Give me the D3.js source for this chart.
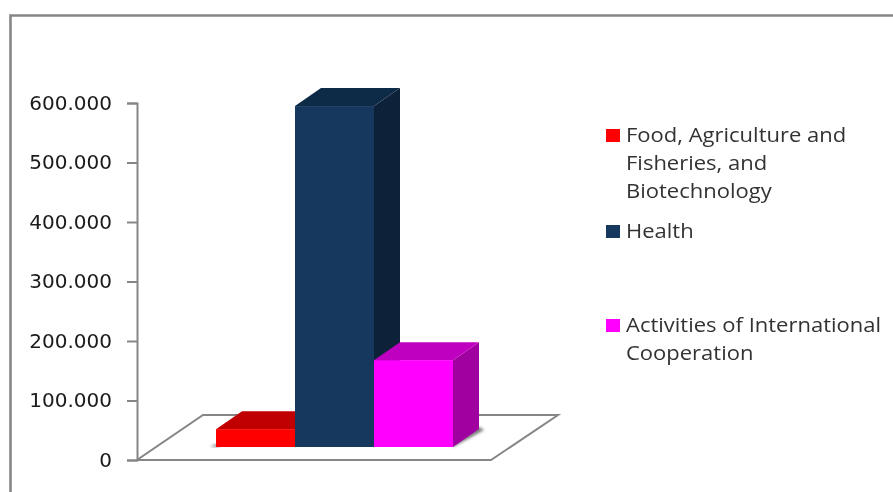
<!DOCTYPE html>
<html><head><meta charset="utf-8">
<script src="https://cdn.jsdelivr.net/npm/d3@7"></script>
<style>html,body{margin:0;padding:0;background:#fff}svg{display:block}</style>
</head><body><div id="c"></div>
<script>
const categories = ["Food, Agriculture and Fisheries, and Biotechnology","Health","Activities of International Cooperation"];
const values = [30000,573000,146000];
const tickValues = [0,100000,200000,300000,400000,500000,600000];
const tickLabels = ["0","100.000","200.000","300.000","400.000","500.000","600.000"];
const legendLines = [["Food, Agriculture and","Fisheries, and","Biotechnology"],["Health"],["Activities of International","Cooperation"]];
const frontColors = ["#ff0000","#17375e","#ff00ff"];
const topColors = ["#c00000","#112a47","#c000c0"];
const sideColors = ["#a00000","#0f2339","#a000a0"];

const W=893,H=492,gray="#868686";
const svg=d3.select("#c").append("svg").attr("width",W).attr("height",H);
const defs=svg.append("defs");
defs.append("filter").attr("id","soft").append("feGaussianBlur").attr("stdDeviation",0.5);
defs.append("filter").attr("id","shadow").append("feGaussianBlur").attr("stdDeviation",1.6);
const root=svg.append("g").attr("filter","url(#soft)");

// chart frame
root.append("path").attr("d",`M10.5,${H}V15.5H${W}`).attr("fill","none").attr("stroke",gray).attr("stroke-width",2.6);

const y=d3.scaleLinear().domain([0,600000]).range([460,103]);
const x=d3.scaleBand().domain(categories).range([216,453]).padding(0);
const baseY=447, dx=26, dy=-18;

// floor
root.append("path").attr("d","M137,460H491L558,415H203Z").attr("fill","#fff").attr("stroke",gray).attr("stroke-width",2);

// axis
const axis=d3.axisLeft(y).tickValues(tickValues).tickFormat((d,i)=>tickLabels[i]).tickSize(10).tickPadding(15);
const ag=root.append("g").attr("transform","translate(137,0)").call(axis);
ag.selectAll("path,line").attr("stroke",gray).attr("stroke-width",2);
ag.selectAll("text").attr("font-family","'DejaVu Sans'").attr("font-size",20).attr("fill","#1a1a1a").attr("dy","0.32em");

// contact shadows
const xl=x(categories[0]), xr=x(categories[2])+x.bandwidth();
root.append("path").attr("d",`M${xl-6},${baseY}H${xl+4}V${baseY-3}H${xl}Z`).attr("fill","#888").attr("filter","url(#shadow)");
root.append("path").attr("d",`M${xr},${baseY}L${xr+dx+5},${baseY+dy+1}L${xr+dx},${baseY+dy-2}L${xr},${baseY-4}Z`).attr("fill","#777").attr("filter","url(#shadow)");

// bars: back to front, left to right
const bars=root.selectAll("g.bar").data(categories.map((c,i)=>({c,i,v:values[i]}))).join("g").attr("class","bar");
bars.each(function(d){
  const g=d3.select(this), x0=x(d.c), x1=x0+x.bandwidth(), h=y(0)-y(d.v), t=baseY-h;
  g.append("path").attr("d",`M${x1},${baseY}V${t}l${dx},${dy}V${baseY+dy}Z`).attr("fill",sideColors[d.i]);
  g.append("path").attr("d",`M${x0},${t}H${x1}l${dx},${dy}H${x0+dx}Z`).attr("fill",topColors[d.i]);
});
bars.append("rect").attr("x",d=>x(d.c)).attr("width",x.bandwidth())
  .attr("y",d=>baseY-(y(0)-y(d.v))).attr("height",d=>y(0)-y(d.v)).attr("fill",d=>frontColors[d.i]);

// legend
const legendTop=[129,225,319], lineStep=28;
const lg=root.append("g");
legendLines.forEach((lines,i)=>{
  lg.append("rect").attr("x",606).attr("y",legendTop[i]).attr("width",14).attr("height",13).attr("fill",frontColors[i]);
  lines.forEach((t,j)=>{
    lg.append("text").attr("transform",`translate(626,${legendTop[i]+13+j*lineStep}) scale(1.1,1)`)
      .attr("font-family","'Open Sans'").attr("font-size",20).attr("fill","#333").text(t);
  });
});
</script></body></html>
